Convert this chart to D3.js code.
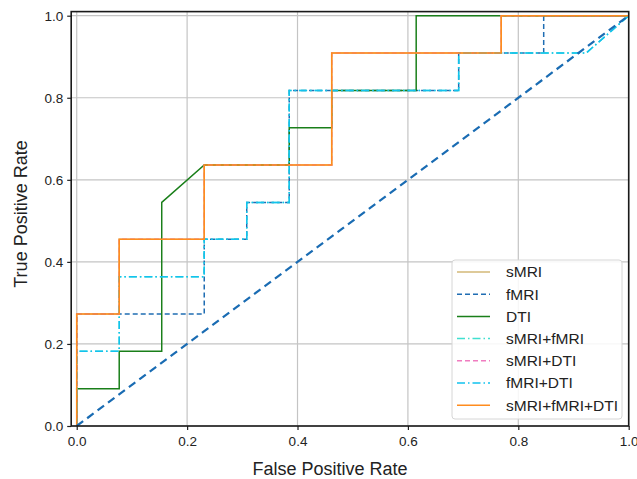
<!DOCTYPE html>
<html>
<head>
<meta charset="utf-8">
<script src="https://cdn.jsdelivr.net/npm/d3@7"></script>
<style>
  body { margin: 0; background: #fff; }
  svg { font-family: "Liberation Sans", Arial, sans-serif; }
</style>
</head>
<body>
<svg id="chart"></svg>
<script>
// ROC curves (FPR steps of 1/13, TPR steps of 1/11)
const seriesNames = ["sMRI", "fMRI", "DTI", "sMRI+fMRI", "sMRI+DTI", "fMRI+DTI", "sMRI+fMRI+DTI"];

const fprOrange = [0, 0, 0.077, 0.077, 0.231, 0.231, 0.462, 0.462, 0.769, 0.769, 1];
const tprOrange = [0, 0.273, 0.273, 0.455, 0.455, 0.636, 0.636, 0.909, 0.909, 1, 1];

const fprFmri = [0, 0, 0.231, 0.231, 0.308, 0.308, 0.385, 0.385, 0.692, 0.692, 0.846, 0.846, 1];
const tprFmri = [0, 0.273, 0.273, 0.455, 0.455, 0.545, 0.545, 0.818, 0.818, 0.909, 0.909, 1, 1];

const fprDti = [0, 0, 0.077, 0.077, 0.154, 0.154, 0.231, 0.385, 0.385, 0.462, 0.462, 0.615, 0.615, 1];
const tprDti = [0, 0.091, 0.091, 0.182, 0.182, 0.545, 0.636, 0.636, 0.727, 0.727, 0.818, 0.818, 1, 1];

const fprFmriDti = [0, 0, 0.077, 0.077, 0.231, 0.231, 0.308, 0.308, 0.385, 0.385, 0.692, 0.692, 0.923, 1];
const tprFmriDti = [0, 0.182, 0.182, 0.364, 0.364, 0.455, 0.455, 0.545, 0.545, 0.818, 0.818, 0.909, 0.909, 1];

// hidden curves (not visible in the picture, they sit under later ones)
const fprSmri = fprOrange, tprSmri = tprOrange;
const fprSmriFmri = fprFmriDti, tprSmriFmri = tprFmriDti;
const fprSmriDti = fprOrange, tprSmriDti = tprOrange;

const chanceLine = [0, 1];
const xTicks = [0, 0.2, 0.4, 0.6, 0.8, 1.0];
const yTicks = [0, 0.2, 0.4, 0.6, 0.8, 1.0];

const zip = (xs, ys) => xs.map((x, i) => [x, ys[i]]);

const series = [
  { name: "sMRI", pts: zip(fprSmri, tprSmri), color: "#d3b877", dash: null, w: 1.5 },
  { name: "fMRI", pts: zip(fprFmri, tprFmri), color: "#1f6db3", dash: "5,3", w: 1.5 },
  { name: "DTI", pts: zip(fprDti, tprDti), color: "#1a7f1a", dash: null, w: 1.5 },
  { name: "sMRI+fMRI", pts: zip(fprSmriFmri, tprSmriFmri), color: "#40e0d0", dash: "8,3,1.5,3", w: 1.5 },
  { name: "sMRI+DTI", pts: zip(fprSmriDti, tprSmriDti), color: "#f07cc0", dash: "5,3", w: 1.5 },
  { name: "fMRI+DTI", pts: zip(fprFmriDti, tprFmriDti), color: "#12c2ee", dash: "8,3,1.5,3", w: 1.5 },
  { name: "sMRI+fMRI+DTI", pts: zip(fprOrange, tprOrange), color: "#ff8c1e", dash: null, w: 1.6 }
];

const width = 637, height = 479;
const svg = d3.select("#chart").attr("width", width).attr("height", height);

const x = d3.scaleLinear().domain([-0.01, 1.0]).range([71.2, 628.7]);
const y = d3.scaleLinear().domain([0, 1.01]).range([426, 11.6]);

// grid
const grid = svg.append("g");
grid.selectAll(".gx").data(xTicks).enter().append("line")
  .attr("x1", d => x(d)).attr("x2", d => x(d))
  .attr("y1", y(1.01)).attr("y2", y(0))
  .attr("stroke", "#c4c4c4").attr("stroke-width", 1.2);
grid.selectAll(".gy").data(yTicks).enter().append("line")
  .attr("x1", x(-0.01)).attr("x2", x(1.0))
  .attr("y1", d => y(d)).attr("y2", d => y(d))
  .attr("stroke", "#c4c4c4").attr("stroke-width", 1.2);

svg.append("clipPath").attr("id", "plot")
  .append("rect").attr("x", x(-0.01)).attr("y", y(1.01))
  .attr("width", x(1.0) - x(-0.01)).attr("height", y(0) - y(1.01));

const line = d3.line().x(d => x(d[0])).y(d => y(d[1]));
const plot = svg.append("g").attr("clip-path", "url(#plot)");

series.forEach(s => {
  plot.append("path").datum(s.pts)
    .attr("d", line)
    .attr("fill", "none")
    .attr("stroke", s.color)
    .attr("stroke-width", s.w)
    .attr("stroke-dasharray", s.dash);
});

// chance diagonal
plot.append("path").datum(zip(chanceLine, chanceLine))
  .attr("d", line).attr("fill", "none")
  .attr("stroke", "#1a6cb3").attr("stroke-width", 2.2)
  .attr("stroke-dasharray", "8,5");

// axes
const xAxis = svg.append("g").attr("transform", `translate(0,${y(0)})`)
  .call(d3.axisBottom(x).tickValues(xTicks).tickFormat(d3.format(".1f")).tickSize(4).tickPadding(4));
const yAxis = svg.append("g").attr("transform", `translate(${x(-0.01)},0)`)
  .call(d3.axisLeft(y).tickValues(yTicks).tickFormat(d3.format(".1f")).tickSize(4).tickPadding(4));
[xAxis, yAxis].forEach(a => {
  a.select(".domain").remove();
  a.selectAll("line").attr("stroke", "#222").attr("stroke-width", 1.2);
  a.selectAll("text").attr("font-size", 13.5).attr("fill", "#222")
    .attr("font-family", "'Liberation Sans', Arial, sans-serif");
});
xAxis.selectAll("text").attr("dy", "0.9em");

// frame
svg.append("rect")
  .attr("x", x(-0.01)).attr("y", y(1.01))
  .attr("width", x(1.0) - x(-0.01)).attr("height", y(0) - y(1.01))
  .attr("fill", "none").attr("stroke", "#1a1a1a").attr("stroke-width", 1.6);

// axis titles
svg.append("text").attr("x", 330).attr("y", 475)
  .attr("text-anchor", "middle").attr("font-size", 18).attr("fill", "#222")
  .text("False Positive Rate");
svg.append("text")
  .attr("transform", "translate(27,214) rotate(-90)")
  .attr("text-anchor", "middle").attr("font-size", 18).attr("fill", "#222")
  .text("True Positive Rate");

// legend
const lg = svg.append("g");
lg.append("rect").attr("x", 452).attr("y", 260).attr("width", 170).attr("height", 159)
  .attr("rx", 3).attr("fill", "#fff").attr("fill-opacity", 0.85)
  .attr("stroke", "#d6d6d6").attr("stroke-width", 1);
const rows = lg.selectAll(".row").data(series).enter().append("g")
  .attr("transform", (d, i) => `translate(0,${272 + i * 22.2})`);
rows.append("line").attr("x1", 457).attr("x2", 490).attr("y1", 0).attr("y2", 0)
  .attr("stroke", d => d.color).attr("stroke-width", d => d.w)
  .attr("stroke-dasharray", d => d.dash);
rows.append("text").attr("x", 506).attr("y", 0).attr("dy", "0.35em")
  .attr("font-size", 15.5).attr("fill", "#222").text(d => d.name);
</script>
</body>
</html>
